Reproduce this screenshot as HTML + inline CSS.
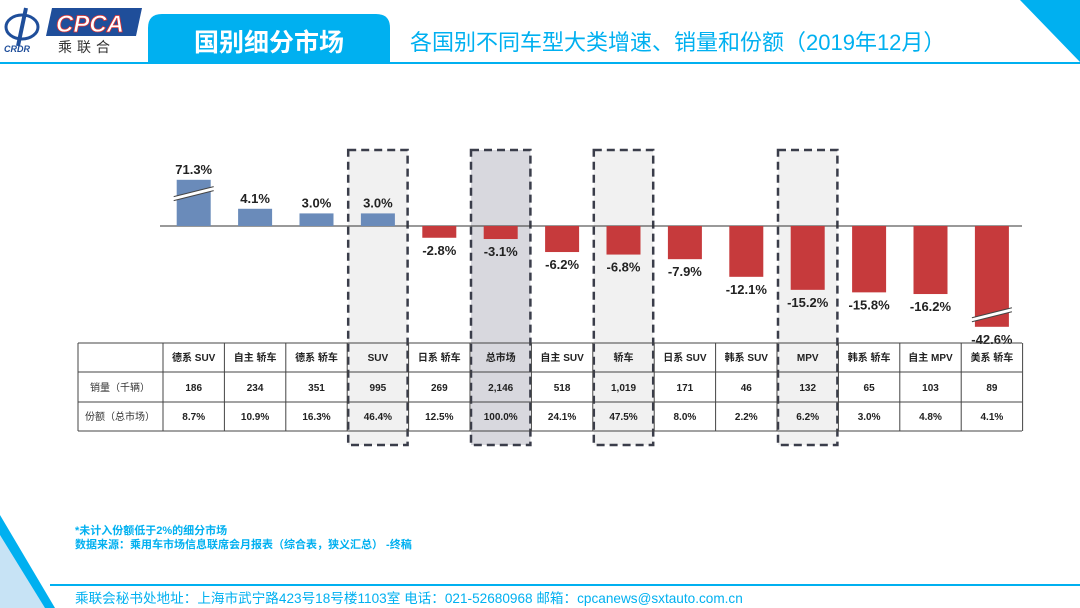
<!DOCTYPE html>
<html><head><meta charset="utf-8"><style>
body{margin:0;width:1080px;height:608px;overflow:hidden;background:#fff;font-family:"Liberation Sans","Noto Sans CJK SC",sans-serif;position:relative}
.abs{position:absolute}
</style></head><body>
<svg class="abs" style="left:0;top:0" width="1080" height="608">
 <g>
  <ellipse cx="22" cy="27" rx="16" ry="12" fill="none" stroke="#1f4e9a" stroke-width="3"/>
  <path d="M26 8 L18 46" stroke="#1f4e9a" stroke-width="4"/>
  <text x="4" y="52" font-size="9" font-style="italic" font-weight="bold" fill="#1f4e9a">CRDR</text>
  <polygon points="52,8 142,8 136,36 46,36" fill="#1f4e9a"/>
  <text x="56" y="32" font-size="24" font-style="italic" font-weight="bold" fill="#fff" stroke="#d33" stroke-width="0.8">CPCA</text>
  <text x="58" y="52" font-size="14" fill="#333" letter-spacing="5">乘联合</text>
 </g>
 <path d="M148 62 L148 28 Q148 14 162 14 L376 14 Q390 14 390 28 L390 62 Z" fill="#00b0f0"/>
 <text x="269" y="51" text-anchor="middle" font-size="25" font-weight="bold" fill="#fff">国别细分市场</text>
 <text x="410" y="50" font-size="22" fill="#00b0f0">各国别不同车型大类增速、销量和份额（2019年12月）</text>
 <rect x="0" y="62" width="1080" height="2" fill="#00b0f0"/>
 <polygon points="1020,0 1080,0 1080,62" fill="#00b0f0"/>
 <polygon points="0,530 0,608 50,608" fill="#c7e3f5"/>
 <polygon points="0,515 0,535 45,608 55,608" fill="#00b0f0"/>
 <rect x="50" y="584" width="1030" height="2" fill="#00b0f0"/>
 <g id="chart"></g>
</svg>
<div class="abs" style="left:75px;top:524px;font-size:11px;line-height:14px;color:#00b0f0;font-weight:bold">*未计入份额低于2%的细分市场<br>数据来源：乘用车市场信息联席会月报表（综合表，狭义汇总） -终稿</div>
<div class="abs" style="left:75px;top:587px;font-size:13.6px;color:#00b0f0">乘联会秘书处地址：上海市武宁路423号18号楼1103室 电话：021-52680968 邮箱：cpcanews@sxtauto.com.cn</div>
<script>
const categories=["德系 SUV","自主 轿车","德系 轿车","SUV","日系 轿车","总市场","自主 SUV","轿车","日系 SUV","韩系 SUV","MPV","韩系 轿车","自主 MPV","美系 轿车"];
const growth=[71.3,4.1,3.0,3.0,-2.8,-3.1,-6.2,-6.8,-7.9,-12.1,-15.2,-15.8,-16.2,-42.6];
const sales=["186","234","351","995","269","2,146","518","1,019","171","46","132","65","103","89"];
const shares=["8.7%","10.9%","16.3%","46.4%","12.5%","100.0%","24.1%","47.5%","8.0%","2.2%","6.2%","3.0%","4.8%","4.1%"];
const highlighted=["SUV","总市场","轿车","MPV"];
const NS="http://www.w3.org/2000/svg";
const g=document.getElementById('chart');
const x0=163,colW=61.4,zeroY=226,pxPer=4.2,cap=11,capNeg=-24;
const xCol=i=>x0+colW*i;
const yVal=v=>zeroY-v*pxPer;
function mk(t,a,p){const e=document.createElementNS(NS,t);for(const k in a)e.setAttribute(k,a[k]);(p||g).appendChild(e);return e;}
categories.forEach((c,i)=>{
 if(!highlighted.includes(c))return;
 const r=mk('rect',{x:xCol(i)+1,y:150,width:colW-2,height:295,fill:c==="总市场"?"#d8d8de":"#f1f1f1",stroke:"#3a3d4a","stroke-width":2.5,"stroke-dasharray":"8,5"});
 
 
});
const zl=mk('line',{x1:160,x2:1022,y1:zeroY,y2:zeroY,stroke:"#333","stroke-width":1});


growth.forEach((v,i)=>{
 const broken=v>0?v>30:v<-30;
 const dv=broken?(v>0?cap:capNeg):v;
 const cx=xCol(i)+colW/2;
 const y1=Math.min(yVal(dv),zeroY),h=Math.abs(yVal(dv)-zeroY);
 const b=mk('rect',{x:cx-17,y:y1,width:34,height:h,fill:v>=0?"#6a8bba":"#c63a3c"});
 
 
 if(broken){
  const my=v>0?y1+h*0.3:y1+h*0.88;
  mk('line',{x1:cx-20,y1:my+5,x2:cx+20,y2:my-5,stroke:"#fff","stroke-width":4});
  mk('line',{x1:cx-20,y1:my+3,x2:cx+20,y2:my-7,stroke:"#444","stroke-width":1});
  mk('line',{x1:cx-20,y1:my+7,x2:cx+20,y2:my-3,stroke:"#444","stroke-width":1});
 }
 const ty=v>=0?y1-6:y1+h+17;
 const t=mk('text',{x:cx,y:ty,"text-anchor":"middle","font-size":13,"font-weight":"bold",fill:"#222"});
 t.textContent=v.toFixed(1)+"%";
 
 
});
const rows=[343,372,402,431];
rows.forEach(y=>{const l=mk('line',{x1:78,x2:1022,y1:y,y2:y,stroke:"#444","stroke-width":1});});
for(let i=0;i<=14;i++){const l=mk('line',{x1:xCol(i),x2:xCol(i),y1:343,y2:431,stroke:"#444","stroke-width":1});}
mk('line',{x1:78,x2:78,y1:343,y2:431,stroke:"#444"});
const rl=[["销量（千辆）",391],["份额（总市场）",420]];
rl.forEach(r=>{const t=mk('text',{x:120,y:r[1],"text-anchor":"middle","font-size":10,fill:"#333"});t.textContent=r[0];});
categories.forEach((c,i)=>{
 const cx=xCol(i)+colW/2;
 const a=mk('text',{x:cx,y:361,"text-anchor":"middle","font-size":10,"font-weight":"bold",fill:"#222"});a.textContent=c;
 
 const b=mk('text',{x:cx,y:391,"text-anchor":"middle","font-size":10,"font-weight":"bold",fill:"#222"});b.textContent=sales[i];
 
 const d=mk('text',{x:cx,y:420,"text-anchor":"middle","font-size":10,"font-weight":"bold",fill:"#222"});d.textContent=shares[i];
 
});
</script>
</body></html>
